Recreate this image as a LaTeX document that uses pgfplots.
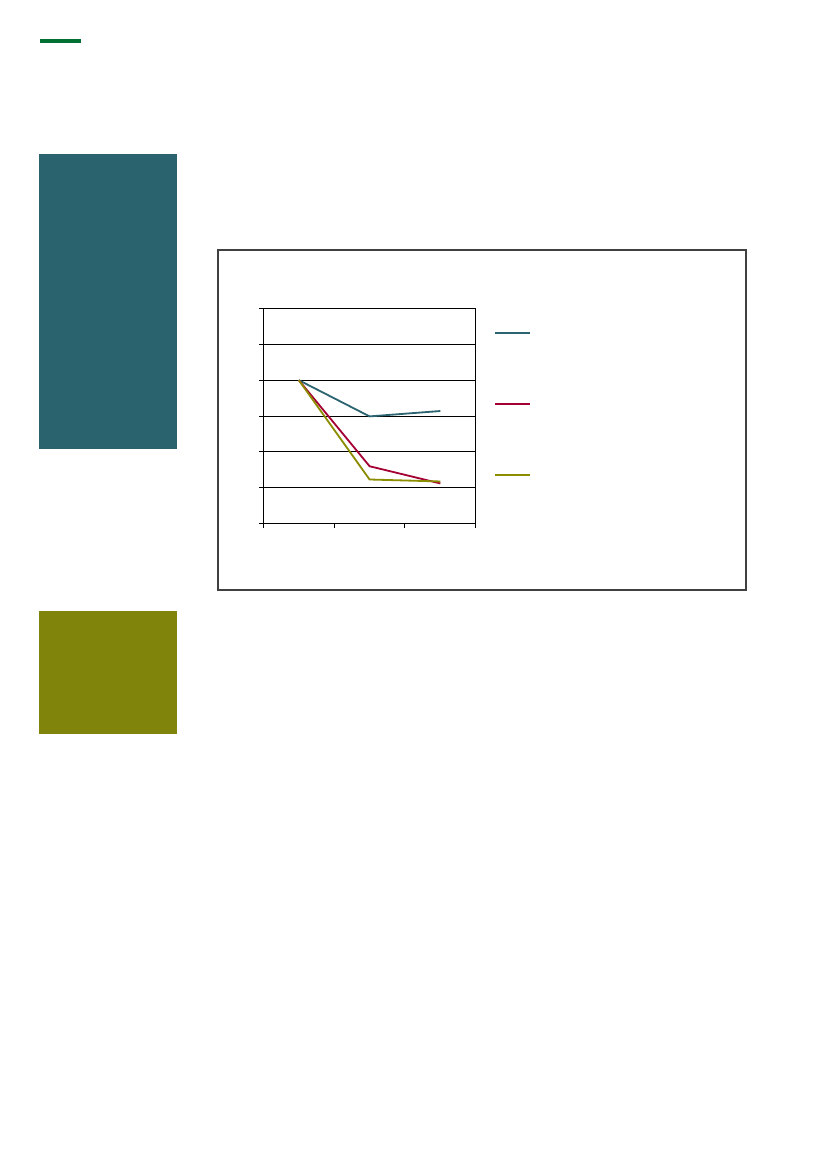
\documentclass[border=0pt]{standalone}
\usepackage{pgfplots}
\pgfplotsset{compat=1.18}
\definecolor{greenbar}{RGB}{0,112,51}
\definecolor{tealrect}{RGB}{42,99,109}
\definecolor{oliverect}{RGB}{128,132,10}
\definecolor{tealline}{RGB}{43,100,112}
\definecolor{redline}{RGB}{165,0,52}
\definecolor{oliveline}{RGB}{140,140,0}
\begin{document}
\begin{tikzpicture}
\begin{scope}[x=0.72pt,y=-0.72pt]
\useasboundingbox[fill=white] (0,0) rectangle (827,1169);
\fill[greenbar] (40,39) rectangle (81,43);
\fill[tealrect] (39,154) rectangle (177,449);
\fill[oliverect] (39,611) rectangle (177,734);
\draw[black!75, line width=1pt] (218,250) rectangle (746,590);
\end{scope}
\begin{axis}[
  at={(189.65pt,-376.99pt)}, anchor=south west,
  scale only axis, width=152.9pt, height=154.9pt,
  xmin=0.5, xmax=3.5, ymin=0, ymax=6,
  xtick={0.5,1.5,2.5,3.5}, ytick={0,1,2,3,4,5,6},
  xticklabels={}, yticklabels={},
  xtick pos=left, ytick pos=left,
  tick align=outside, major tick length=2.9pt,
  tick style={black, line width=0.7pt},
  ymajorgrids, grid style={black, line width=0.7pt},
  axis line style={black, line width=0.8pt},
  legend style={at={(rel axis cs:1.086,0.556)}, anchor=west, draw=none, fill=none,
    inner sep=0pt, outer sep=0pt, row sep=49.5pt,
    nodes={inner sep=0pt, outer sep=0pt, text height=0pt, text depth=0pt, text=white}},
  legend image code/.code={\draw[#1, line width=1.5pt] (0pt,0pt) -- (25.2pt,0pt);},
  every axis plot/.append style={line width=1.3pt},
]
\addplot[tealline, mark=none] coordinates {(1,4) (2,2.99) (3,3.14)};
\addlegendentry{\mbox{}}
\addplot[redline, mark=none] coordinates {(1,4) (2,1.6) (3,1.12)};
\addlegendentry{\mbox{}}
\addplot[oliveline, mark=none] coordinates {(1,4) (2,1.23) (3,1.175)};
\addlegendentry{\mbox{}}
\end{axis}
\end{tikzpicture}
\end{document}
